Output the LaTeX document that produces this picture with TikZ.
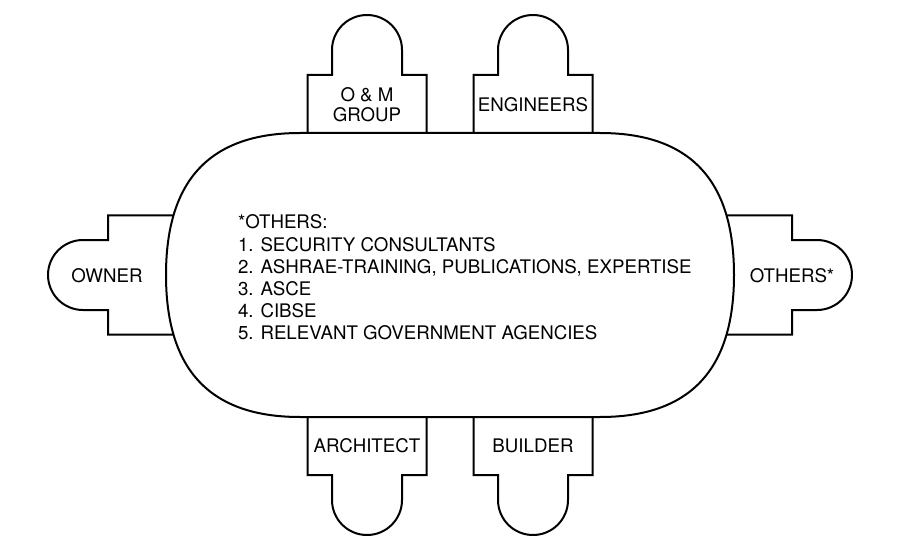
\documentclass[tikz,border=0pt]{standalone}
\usepackage{fontspec}
\setmainfont{TeX Gyre Heros}
\begin{document}
\begin{tikzpicture}[x=1pt,y=1pt,line width=2pt,
  seat text/.style={font=\fontsize{18.7}{20}\selectfont, align=center, inner sep=0pt},
  pics/chair/.style={code={
    \draw[fill=white] (-59.5,-40) -- (-59.5,58) -- (-35,58) -- (-35,83)
      arc[start angle=180,end angle=0,radius=35] -- (35,58) -- (59.5,58) -- (59.5,-40);
  }}]
\useasboundingbox (0,0) rectangle (900,550);
% chairs round the table
\pic at (367,417) {chair};
\pic at (533,417) {chair};
\pic[rotate=180] at (367,133) {chair};
\pic[rotate=180] at (533,133) {chair};
\pic[rotate=90] at (166,275) {chair};
\pic[rotate=-90] at (734,275) {chair};
% table
\draw[fill=white] (300,417) -- (600,417)
  .. controls (690,417) and (734,370) .. (734,275)
  .. controls (734,180) and (690,133) .. (600,133) -- (300,133)
  .. controls (210,133) and (166,180) .. (166,275)
  .. controls (166,370) and (210,417) .. (300,417) -- cycle;
% seat labels
\node[seat text] (om) at (367,445) {O \& M\\GROUP};
\node[seat text] (engineers) at (533,445) {ENGINEERS};
\node[seat text] (architect) at (367,104) {ARCHITECT};
\node[seat text] (builder) at (533,104) {BUILDER};
\node[seat text] (owner) at (107,274) {OWNER};
\node[seat text] (others) at (792,274) {OTHERS*};
% list on the table
\node[anchor=west, align=left, inner sep=0pt, font=\fontsize{18.7}{22.2}\selectfont] (notes) at (237,272.5) {%
*OTHERS:\\
1. SECURITY CONSULTANTS\\
2. ASHRAE-TRAINING, PUBLICATIONS, EXPERTISE\\
3. ASCE\\
4. CIBSE\\
5. RELEVANT GOVERNMENT AGENCIES};
\end{tikzpicture}
\end{document}
